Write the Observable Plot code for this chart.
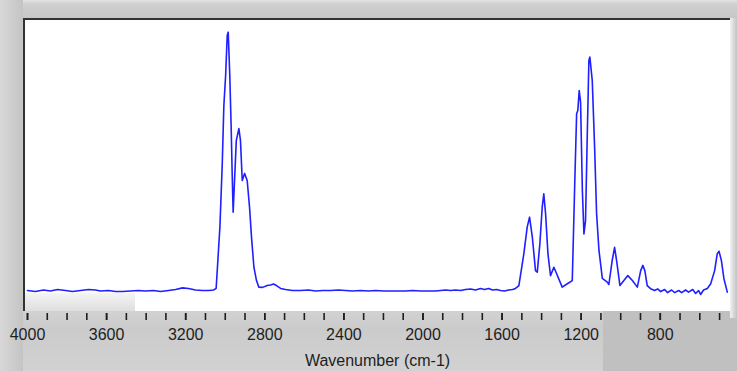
<!DOCTYPE html>
<html><head><meta charset="utf-8">
<script src="https://cdn.jsdelivr.net/npm/d3@7"></script>
<script src="https://cdn.jsdelivr.net/npm/@observablehq/plot@0.6"></script>
<style>
html,body{margin:0;padding:0;background:#c6c6c6;}
#wrap{position:relative;width:737px;height:371px;overflow:hidden;background:#c8c8c8;}
.bg{position:absolute;box-sizing:border-box;}
#chart{position:absolute;left:0;top:0;}
</style></head><body>
<div id="wrap">
  <div class="bg" style="left:0;top:0;width:737px;height:19px;background:linear-gradient(#e4e4e4 0,#d0d0d0 4px,#c6c6c6 19px);"></div>
  <div class="bg" style="left:0;top:0;width:23px;height:371px;background:linear-gradient(90deg,#d8d8d8,#c4c4c4);"></div>
  <div class="bg" style="left:23px;top:300px;width:580px;height:71px;background:linear-gradient(#d6d6d6,#cbcbcb 40%,#d2d2d2);"></div>
  <div class="bg" style="left:603px;top:300px;width:134px;height:71px;background:#c0c0c0;"></div>
  <div class="bg" style="left:730px;top:18px;width:7px;height:300px;background:linear-gradient(90deg,#f2f2f2,#c2c2c2);"></div>
  <div class="bg" style="left:23px;top:18px;width:707px;height:293px;background:#fff;border-top:2px solid #333;border-left:2px solid #333;"></div>
  <div class="bg" style="left:25px;top:293px;width:110px;height:18px;background:linear-gradient(#f4f4f4,#dedede);"></div>
  <div id="chart"></div>
</div>
<script>
// Wavenumber (cm-1) and relative absorbance
const wavenumber = [
  4000,3960,3919,3884,3848,3808,3772,3732,3691,3656,3631,3590,3555,3520,3479,3439,3403,3363,3327,3287,3251,3216,3186,3150,3115,3084,3059,
  3046,3027,3015,3007,2998,2990,2985,2977,2970,2965,2960,2953,2944,2931,2923,2914,2902,2889,2877,2867,2855,2842,2830,2811,2788,2771,2756,2741,2720,
  2695,2660,2619,2579,2543,2508,2467,2427,2392,2356,2316,2275,2240,2199,2164,2123,2088,2053,2012,1972,1936,1911,1886,1860,1835,1810,1785,1759,1734,1709,1689,1668,1648,1628,1608,1587,1567,1547,1532,
  1515,1490,1473,1461,1447,1431,1422,1409,1397,1389,1380,1368,1355,1338,1324,1296,1270,1245,1233,1223,1217,1210,1203,1194,1186,1178,1169,1161,1156,1144,1132,1122,1110,1093,1068,1060,1043,1031,1021,1004,984,964,941,916,899,888,878,866,849,
  829,813,798,778,763,743,727,707,692,672,657,636,621,606,596,581,562,545,525,512,503,491,478,461
];
const absorbance = [
  1.9,1.5,2.1,1.7,2.3,1.9,1.5,1.9,2.3,2.1,1.7,1.9,1.5,1.5,1.7,1.9,1.7,1.9,1.5,1.9,2.3,2.9,2.7,2.1,1.9,1.9,2.1,
  2.7,26.1,50.4,72.5,84,99.2,100.5,84,64.1,46.6,31.8,43.9,59.2,63.7,59.2,43.9,46.6,43.9,33.6,22.1,10.8,5.7,3.2,3.1,3.8,4.0,4.4,3.8,2.7,
  2.3,1.9,1.9,2.1,1.7,1.9,1.9,2.1,1.9,1.7,1.9,1.7,1.9,1.7,1.7,1.7,1.7,1.9,1.7,1.7,1.7,1.9,2.1,1.9,2.1,1.9,2.3,2.5,2.1,2.7,2.3,2.7,2.1,2.3,1.9,1.7,2.1,2.3,2.7,
  3.8,15.9,26.1,29.9,22.3,9.5,8.9,19.7,33.7,38.8,31.2,15.9,7.6,10.8,8.3,3.2,4.5,5.7,41.3,69.4,70.6,78.2,73.8,40.1,23.5,28.6,61.7,89.7,91,82.1,56.6,31.2,17.2,6.5,5.1,4.2,13.4,18.4,13.4,3.8,5.7,7.6,5.7,3.2,9.5,11.5,9.5,3.8,2.6,
  1.9,2.5,1.5,2.3,1.1,2.1,1.1,1.9,1.1,2.1,1.3,2.3,0.8,1.9,0.4,2.1,2.7,4.5,9.5,15.9,16.9,13.4,6.4,1.3
];
const tickLabels = [4000,3600,3200,2800,2400,2000,1600,1200,800];
const minorTicks = d3.range(500, 4001, 100);
const axisTitle = "Wavenumber (cm-1)";

const spectrum = wavenumber.map((w, i) => ({w, a: absorbance[i]}));

const chart = Plot.plot({
  width: 737,
  height: 371,
  marginLeft: 27,
  marginRight: 10,
  marginTop: 33,
  marginBottom: 58,
  x: {domain: [4000, 460]},
  y: {domain: [0, 100], range: [295, 33], axis: null},
  style: {background: "transparent", fontFamily: "'Liberation Sans', Arial, sans-serif", fontSize: "16px", color: "#1e1e1e", overflow: "visible"},
  marks: [
    Plot.axisX(minorTicks, {tickSize: 7, tickFormat: () => "", strokeWidth: 1.6, label: null}),
    Plot.axisX(tickLabels, {tickSize: 7, strokeWidth: 1.6, tickPadding: 8, fontSize: 16, tickFormat: d => String(d),
      label: axisTitle, labelAnchor: "center", labelArrow: "none", labelOffset: 52}),
    Plot.line(spectrum, {x: "w", y: "a", stroke: "#1f1fff", strokeWidth: 1.6, strokeLinejoin: "round"})
  ]
});
document.getElementById("chart").appendChild(chart);
</script>
</body></html>
